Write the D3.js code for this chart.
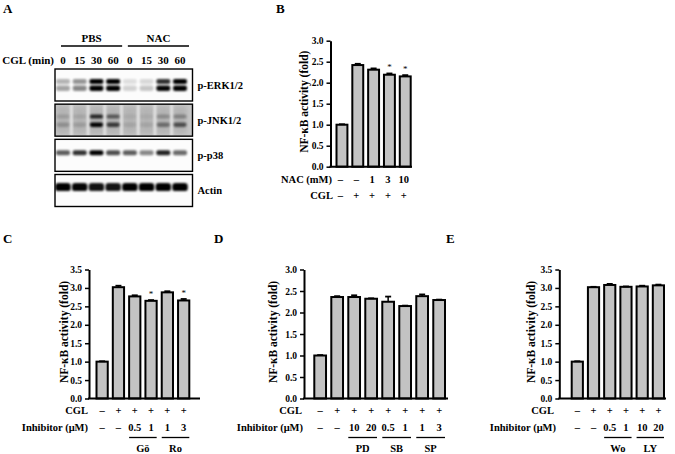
<!DOCTYPE html>
<html><head><meta charset="utf-8">
<script src="https://cdn.jsdelivr.net/npm/d3@7"></script>
<style>
body{margin:0;background:#fff}
svg{display:block;font-family:"Liberation Serif","Times New Roman",serif;font-weight:bold}
</style></head><body>
<svg id="c" width="675" height="454"></svg>
<script>
// ---------- Panel A (western blot) ----------
const laneLabels = ["0","15","30","60","0","15","30","60"];
const treatGroups = ["PBS","NAC"];
const blotRows = ["p-ERK1/2","p-JNK1/2","p-p38","Actin"];
const erkUpper = [0.25,0.35,0.95,0.9,0.1,0.12,0.7,0.95];
const erkLower = [0.3,0.4,1.0,0.95,0.14,0.18,0.85,0.9];
const jnkUpper = [0.12,0.08,0.7,0.45,0.05,0.05,0.2,0.25];
const jnkLower = [0.18,0.12,0.9,0.6,0.08,0.08,0.35,0.5];
const p38Band = [0.55,0.7,1.0,0.6,0.55,0.4,0.75,0.5];
const actinBand = [1.0,0.85,0.8,0.8,0.9,0.95,1.0,1.0];

// ---------- Panel B ----------
const bValues = [1.0, 2.42, 2.31, 2.19, 2.15];
const bErrors = [0.01, 0.03, 0.03, 0.03, 0.03];
const bSig = [0,0,0,1,1];
const bNAC = ["–","–","1","3","10"];
const bCGL = ["–","+","+","+","+"];
const bTicks = [0,0.5,1,1.5,2,2.5,3];

// ---------- Panel C ----------
const cValues = [1.0, 3.02, 2.77, 2.65, 2.88, 2.66];
const cErrors = [0.01, 0.04, 0.03, 0.02, 0.03, 0.04];
const cSig = [0,0,0,1,0,1];
const cCGL = ["–","+","+","+","+","+"];
const cInhibitor = ["–","–","0.5","1","1","3"];
const cGroupNames = ["Gö","Ro"];
const cGroupSpans = [[2,3],[4,5]];
const cTicks = [0,0.5,1,1.5,2,2.5,3,3.5];

// ---------- Panel D ----------
const dValues = [1.0, 2.36, 2.36, 2.32, 2.25, 2.15, 2.38, 2.29];
const dErrors = [0.01, 0.02, 0.04, 0.01, 0.12, 0.01, 0.04, 0.01];
const dSig = [0,0,0,0,0,0,0,0];
const dCGL = ["–","+","+","+","+","+","+","+"];
const dInhibitor = ["–","–","10","20","0.5","1","1","3"];
const dGroupNames = ["PD","SB","SP"];
const dGroupSpans = [[2,3],[4,5],[6,7]];
const dTicks = [0,0.5,1,1.5,2,2.5,3];

// ---------- Panel E ----------
const eValues = [1.0, 3.02, 3.08, 3.03, 3.04, 3.07];
const eErrors = [0.01, 0.01, 0.03, 0.01, 0.02, 0.02];
const eSig = [0,0,0,0,0,0];
const eCGL = ["–","+","+","+","+","+"];
const eInhibitor = ["–","–","0.5","1","10","20"];
const eGroupNames = ["Wo","LY"];
const eGroupSpans = [[2,3],[4,5]];
const eTicks = [0,0.5,1,1.5,2,2.5,3,3.5];

const svg = d3.select("#c");
const defs = svg.append("defs");
defs.append("filter").attr("id","blur").attr("x","-50%").attr("y","-100%").attr("width","200%").attr("height","300%")
  .append("feGaussianBlur").attr("stdDeviation",0.9);
defs.append("filter").attr("id","blur2").attr("x","-50%").attr("y","-50%").attr("width","200%").attr("height","200%")
  .append("feGaussianBlur").attr("stdDeviation",2.5);

// panel letters
const letters = [["A",3,13],["B",276,13],["C",3,243],["D",214,243],["E",446,243]];
svg.selectAll("text.plet").data(letters).join("text").attr("class","plet")
  .attr("x",d=>d[1]).attr("y",d=>d[2]).attr("font-size",13).text(d=>d[0]);

// ---------- draw blot ----------
(function(){
  const g = svg.append("g");
  const boxL = 55, boxR = 192.5;
  const laneX = d3.scalePoint().domain(d3.range(laneLabels.length)).range([63,180]);
  const rowY = d3.scaleBand().domain(blotRows).range([69,206.5]).paddingInner(0.09);
  treatGroups.forEach((t,k)=>{
    const a = laneX(k*4)-2, b = laneX(k*4+3)+9;
    g.append("text").attr("x",(a+b)/2).attr("y",42).attr("text-anchor","middle").attr("font-size",11).text(t);
    g.append("line").attr("x1",a).attr("x2",b).attr("y1",46).attr("y2",46).attr("stroke","#000").attr("stroke-width",1.3);
  });
  g.append("text").attr("x",54).attr("y",64).attr("text-anchor","end").attr("font-size",11).text("CGL (min)");
  g.selectAll("text.lane").data(laneLabels).join("text").attr("class","lane")
    .attr("x",(d,i)=>laneX(i)).attr("y",64).attr("text-anchor","middle").attr("font-size",11).text(d=>d);

  const layers = {
    "p-ERK1/2":[{v:erkUpper,dy:12.5,h:5,w:14},{v:erkLower,dy:19.3,h:5.5,w:14}],
    "p-JNK1/2":[{v:jnkUpper,dy:12.4,h:4,w:13},{v:jnkLower,dy:20.5,h:4.5,w:13}],
    "p-p38":[{v:p38Band,dy:13.3,h:5,w:14}],
    "Actin":[{v:actinBand,dy:12.6,h:8,w:15.5}]
  };
  blotRows.forEach(r=>{
    const y0 = rowY(r), h = rowY.bandwidth();
    const rg = g.append("g");
    const clipId = "clip"+r.replace(/[^a-z0-9]/gi,"");
    defs.append("clipPath").attr("id",clipId).append("rect").attr("x",boxL).attr("y",y0).attr("width",boxR-boxL).attr("height",h);
    const inner = rg.append("g").attr("clip-path",`url(#${clipId})`);
    const isJNK = r==="p-JNK1/2";
    inner.append("rect").attr("x",boxL).attr("y",y0).attr("width",boxR-boxL).attr("height",h)
      .attr("fill", isJNK ? "#c8c8c8" : "#fcfcfc");
    if(isJNK){
      laneLabels.forEach((d,i)=>{
        inner.append("rect").attr("x",laneX(i)-7).attr("y",y0+2).attr("width",14).attr("height",h-4)
          .attr("fill","#a0a0a0").attr("opacity",0.5).attr("filter","url(#blur2)");
      });
      d3.range(laneLabels.length-1).forEach(i=>{
        inner.append("rect").attr("x",(laneX(i)+laneX(i+1))/2-1.2).attr("y",y0).attr("width",2.4).attr("height",h)
          .attr("fill","#e6e6e6").attr("filter","url(#blur)");
      });
    }
    layers[r].forEach(L=>{
      inner.selectAll(null).data(L.v).join("rect")
        .attr("x",(d,i)=>laneX(i)-L.w/2).attr("width",L.w)
        .attr("y",y0+L.dy-L.h/2).attr("height",L.h).attr("rx",L.h/2.5)
        .attr("fill","#050505").attr("opacity",d=>Math.min(1,d*1.15)).attr("filter","url(#blur)");
    });
    rg.append("rect").attr("x",boxL).attr("y",y0).attr("width",boxR-boxL).attr("height",h)
      .attr("fill","none").attr("stroke","#000").attr("stroke-width",1.4);
    g.append("text").attr("x",197.5).attr("y",y0+h/2+4).attr("font-size",10.5).text(r);
  });
})();

// ---------- generic bar chart ----------
function barChart(o){
  const g = svg.append("g");
  const n = o.values.length;
  const x = d3.scaleBand().domain(d3.range(n)).range([o.barL,o.barR]).paddingInner(0.31).paddingOuter(0);
  const y = d3.scaleLinear().domain([0,o.yMax]).range([o.y0,o.yTop]);
  g.selectAll("rect.bar").data(o.values).join("rect").attr("class","bar")
    .attr("x",(d,i)=>x(i)).attr("width",x.bandwidth())
    .attr("y",d=>y(d)).attr("height",d=>y(0)-y(d))
    .attr("fill","#c3c3c3").attr("stroke","#000").attr("stroke-width",2);
  const cx = i => x(i)+x.bandwidth()/2;
  g.selectAll("line.err").data(o.values).join("line").attr("class","err")
    .attr("x1",(d,i)=>cx(i)).attr("x2",(d,i)=>cx(i))
    .attr("y1",d=>y(d)).attr("y2",(d,i)=>y(d+o.errors[i])).attr("stroke","#000").attr("stroke-width",1.5);
  g.selectAll("line.cap").data(o.values).join("line").attr("class","cap")
    .attr("x1",(d,i)=>cx(i)-3).attr("x2",(d,i)=>cx(i)+3)
    .attr("y1",(d,i)=>y(d+o.errors[i])).attr("y2",(d,i)=>y(d+o.errors[i])).attr("stroke","#000").attr("stroke-width",1.8);
  g.selectAll("text.star").data(o.values.map((v,i)=>({v,i})).filter(d=>o.sig[d.i])).join("text").attr("class","star")
    .attr("x",d=>cx(d.i)).attr("y",d=>y(d.v+o.errors[d.i])-3).attr("text-anchor","middle")
    .attr("font-size",9).attr("font-weight","normal").text("*");
  const ax = g.append("g").attr("transform",`translate(${o.axisX},0)`)
    .call(d3.axisLeft(y).tickValues(o.ticks).tickFormat(d3.format(".1f")).tickSize(4).tickSizeOuter(0).tickPadding(3));
  ax.select(".domain").attr("stroke-width",2);
  ax.selectAll(".tick line").attr("stroke-width",1.5);
  ax.selectAll(".tick text").attr("font-family","Liberation Serif, serif").attr("font-weight","bold").attr("font-size",9.5).attr("fill","#000");
  g.append("line").attr("x1",o.axisX-1).attr("x2",o.axisEnd).attr("y1",y(0)).attr("y2",y(0)).attr("stroke","#000").attr("stroke-width",2);
  g.append("text").attr("transform",`translate(${o.titleX},${(o.y0+o.yTop)/2 - 2}) rotate(-90)`)
    .attr("text-anchor","middle").attr("font-size",11.5).text("NF-κB activity (fold)");
  o.rows.forEach(r=>{
    g.append("text").attr("x",r.labelX).attr("y",r.y).attr("text-anchor","end").attr("font-size",10.5).text(r.label);
    g.selectAll(null).data(r.vals).join("text").attr("x",(d,i)=>cx(i)+(r.dx||0)).attr("y",r.y)
      .attr("text-anchor","middle").attr("font-size",10.5).text(d=>d);
  });
  (o.groupNames||[]).forEach((name,k)=>{
    const [a,b] = o.groupSpans[k];
    const xa = x(a), xb = x(b)+x.bandwidth();
    g.append("line").attr("x1",xa).attr("x2",xb).attr("y1",o.groupLineY).attr("y2",o.groupLineY).attr("stroke","#000").attr("stroke-width",1.3);
    g.append("text").attr("x",(xa+xb)/2).attr("y",o.groupLineY+14).attr("text-anchor","middle").attr("font-size",10.5).text(name);
  });
}

barChart({values:bValues,errors:bErrors,sig:bSig,ticks:bTicks,yMax:3,y0:166.7,yTop:40.7,
  axisX:330.5,axisEnd:412,barL:336.5,barR:410.7,titleX:308,
  rows:[{label:"NAC (mM)",vals:bNAC,y:183,labelX:332,dx:-1.5},{label:"CGL",vals:bCGL,y:199,labelX:333,dx:-1.5}]});

barChart({values:cValues,errors:cErrors,sig:cSig,ticks:cTicks,yMax:3.5,y0:398.5,yTop:269.5,
  axisX:89,axisEnd:200,barL:96.5,barR:189.3,titleX:68,
  rows:[{label:"CGL",vals:cCGL,y:414,labelX:88},{label:"Inhibitor (μM)",vals:cInhibitor,y:430.5,labelX:88}],
  groupNames:cGroupNames,groupSpans:cGroupSpans,groupLineY:437.5});

barChart({values:dValues,errors:dErrors,sig:dSig,ticks:dTicks,yMax:3,y0:398.5,yTop:269.5,
  axisX:304,axisEnd:448,barL:314.3,barR:445,titleX:277,
  rows:[{label:"CGL",vals:dCGL,y:414,labelX:302},{label:"Inhibitor (μM)",vals:dInhibitor,y:430.5,labelX:303}],
  groupNames:dGroupNames,groupSpans:dGroupSpans,groupLineY:437.5});

barChart({values:eValues,errors:eErrors,sig:eSig,ticks:eTicks,yMax:3.5,y0:398.5,yTop:269.5,
  axisX:559.3,axisEnd:666,barL:571.7,barR:664,titleX:535,
  rows:[{label:"CGL",vals:eCGL,y:414,labelX:554},{label:"Inhibitor (μM)",vals:eInhibitor,y:430.5,labelX:556}],
  groupNames:eGroupNames,groupSpans:eGroupSpans,groupLineY:437.5});
</script>
</body></html>
